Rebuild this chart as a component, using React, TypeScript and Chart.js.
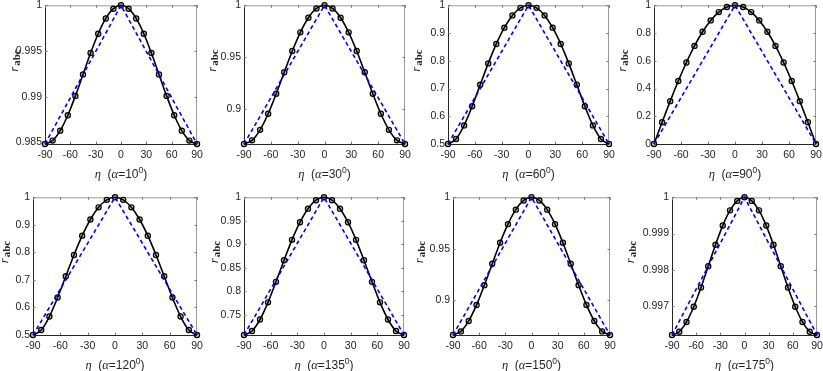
import React, { useEffect, useRef } from "react";
import { Chart, registerables } from "chart.js";

Chart.register(...registerables);

// ---------- data ----------
const ETA = [-90, -81, -72, -63, -54, -45, -36, -27, -18, -9, 0, 9, 18, 27, 36, 45, 54, 63, 72, 81, 90];
const TRI_ETA = [-90, 0, 90];
const X_TICKS = [-90, -60, -30, 0, 30, 60, 90];

const R_A10 = [0.98481, 0.98518, 0.98627, 0.98796, 0.99008, 0.99243, 0.99478, 0.99689, 0.99856, 0.99963, 1, 0.99963, 0.99856, 0.99689, 0.99478, 0.99243, 0.99008, 0.98796, 0.98627, 0.98518, 0.98481];
const R_A30 = [0.86603, 0.86955, 0.8797, 0.89528, 0.91453, 0.93541, 0.95584, 0.97389, 0.98799, 0.99694, 1, 0.99694, 0.98799, 0.97389, 0.95584, 0.93541, 0.91453, 0.89528, 0.8797, 0.86955, 0.86603];
const R_A60 = [0.5, 0.51803, 0.56712, 0.63607, 0.71353, 0.79057, 0.86074, 0.91947, 0.96353, 0.99078, 1, 0.99078, 0.96353, 0.91947, 0.86074, 0.79057, 0.71353, 0.63607, 0.56712, 0.51803, 0.5];
const R_A90 = [0, 0.15643, 0.30902, 0.45399, 0.58779, 0.70711, 0.80902, 0.89101, 0.95106, 0.98769, 1, 0.98769, 0.95106, 0.89101, 0.80902, 0.70711, 0.58779, 0.45399, 0.30902, 0.15643, 0];
const R_A120 = [0.5, 0.51803, 0.56712, 0.63607, 0.71353, 0.79057, 0.86074, 0.91947, 0.96353, 0.99078, 1, 0.99078, 0.96353, 0.91947, 0.86074, 0.79057, 0.71353, 0.63607, 0.56712, 0.51803, 0.5];
const R_A135 = [0.70711, 0.71571, 0.7401, 0.77657, 0.82021, 0.86603, 0.90954, 0.94708, 0.97584, 0.99387, 1, 0.99387, 0.97584, 0.94708, 0.90954, 0.86603, 0.82021, 0.77657, 0.7401, 0.71571, 0.70711];
const R_A150 = [0.86603, 0.86955, 0.8797, 0.89528, 0.91453, 0.93541, 0.95584, 0.97389, 0.98799, 0.99694, 1, 0.99694, 0.98799, 0.97389, 0.95584, 0.93541, 0.91453, 0.89528, 0.8797, 0.86955, 0.86603];
const R_A175 = [0.9962, 0.99629, 0.99656, 0.99698, 0.99751, 0.9981, 0.99869, 0.99922, 0.99964, 0.9999, 1, 0.9999, 0.99964, 0.99922, 0.99869, 0.9981, 0.99751, 0.99698, 0.99656, 0.99629, 0.9962];

const T_A10 = [0.98481, 1, 0.98481];
const T_A30 = [0.86603, 1, 0.86603];
const T_A60 = [0.5, 1, 0.5];
const T_A90 = [0, 1, 0];
const T_A120 = [0.5, 1, 0.5];
const T_A135 = [0.70711, 1, 0.70711];
const T_A150 = [0.86603, 1, 0.86603];
const T_A175 = [0.9962, 1, 0.9962];

const YT_A10 = [0.985, 0.99, 0.995, 1];
const YT_A30 = [0.9, 0.95, 1];
const YT_A60 = [0.5, 0.6, 0.7, 0.8, 0.9, 1];
const YT_A90 = [0, 0.2, 0.4, 0.6, 0.8, 1];
const YT_A120 = [0.5, 0.6, 0.7, 0.8, 0.9, 1];
const YT_A135 = [0.75, 0.8, 0.85, 0.9, 0.95, 1];
const YT_A150 = [0.9, 0.95, 1];
const YT_A175 = [0.997, 0.998, 0.999, 1];

const ALPHAS = ["10", "30", "60", "90", "120", "135", "150", "175"];
const CURVES = [R_A10, R_A30, R_A60, R_A90, R_A120, R_A135, R_A150, R_A175];
const TRIS = [T_A10, T_A30, T_A60, T_A90, T_A120, T_A135, T_A150, T_A175];
const YTICKS = [YT_A10, YT_A30, YT_A60, YT_A90, YT_A120, YT_A135, YT_A150, YT_A175];

// ---------- layout (plot-area rectangles in page pixels) ----------
const RECTS = [
  { l: 45, t: 4, r: 197, b: 144, lab: 30 },
  { l: 244, t: 4, r: 405, b: 144, lab: 31 },
  { l: 448, t: 4, r: 609, b: 144, lab: 31 },
  { l: 654, t: 4, r: 816, b: 144, lab: 31 },
  { l: 33, t: 196, r: 197, b: 335, lab: 28 },
  { l: 244, t: 196, r: 404, b: 335, lab: 29 },
  { l: 453, t: 196, r: 610, b: 335, lab: 33 },
  { l: 672, t: 196, r: 817, b: 335, lab: 41 },
];
const PAD_L = 52;
const PAD_R = 12;
const PAD_T = 8;
const PAD_B = 40;

const SANS = "'Liberation Sans', Arial, sans-serif";
const SERIF = "'Liberation Serif', 'Times New Roman', serif";
const AX = "#262626";

const fmt = (v: number) => String(parseFloat(v.toFixed(6)));

const deco = {
  id: "deco",
  beforeDatasetsDraw(chart: any, _a: any, opts: any) {
    const { ctx, chartArea: a, scales } = chart;
    ctx.save();
    ctx.lineWidth = 1;
    ctx.strokeStyle = "#9a9a9a";
    ctx.beginPath();
    ctx.moveTo(a.left, a.top + 0.5);
    ctx.lineTo(a.right - 0.5, a.top + 0.5);
    ctx.lineTo(a.right - 0.5, a.bottom);
    ctx.stroke();
    ctx.strokeStyle = AX;
    ctx.beginPath();
    ctx.moveTo(a.left + 0.5, a.top);
    ctx.lineTo(a.left + 0.5, a.bottom + 0.5);
    ctx.lineTo(a.right, a.bottom + 0.5);
    ctx.stroke();
    // inward ticks
    ctx.strokeStyle = "#777";
    ctx.beginPath();
    for (const t of scales.x.ticks) {
      const px = Math.round(scales.x.getPixelForValue(t.value)) + 0.5;
      ctx.moveTo(px, a.bottom);
      ctx.lineTo(px, a.bottom - 2.5);
      ctx.moveTo(px, a.top);
      ctx.lineTo(px, a.top + 2.5);
    }
    for (const t of scales.y.ticks) {
      const py = Math.round(scales.y.getPixelForValue(t.value)) + 0.5;
      ctx.moveTo(a.left, py);
      ctx.lineTo(a.left + 2.5, py);
      ctx.moveTo(a.right, py);
      ctx.lineTo(a.right - 2.5, py);
    }
    ctx.stroke();
    ctx.restore();
  },
  afterDraw(chart: any, _a: any, opts: any) {
    const { ctx, chartArea: a } = chart;
    ctx.save();
    ctx.fillStyle = AX;
    ctx.textBaseline = "alphabetic";
    ctx.textAlign = "left";
    // x label: η  (α=NN⁰)
    const parts = [
      { t: "\u03B7", f: `italic 12.5px ${SERIF}`, dy: 0 },
      { t: "  (", f: `12px ${SANS}`, dy: 0 },
      { t: "\u03B1", f: `italic 12.5px ${SERIF}`, dy: 0 },
      { t: "=" + opts.alpha, f: `12px ${SANS}`, dy: 0 },
      { t: "0", f: `8.5px ${SANS}`, dy: -5 },
      { t: ")", f: `12px ${SANS}`, dy: 0 },
    ];
    let total = 0;
    for (const p of parts) {
      ctx.font = p.f;
      total += ctx.measureText(p.t).width;
    }
    let x = (a.left + a.right) / 2 - total / 2;
    const y = a.bottom + 34;
    for (const p of parts) {
      ctx.font = p.f;
      ctx.fillText(p.t, x, y + p.dy);
      x += ctx.measureText(p.t).width;
    }
    // y label: r_abc rotated
    const cy = (a.top + a.bottom) / 2;
    ctx.translate(a.left - opts.lab + 2.5, cy - 3);
    ctx.rotate(-Math.PI / 2);
    ctx.font = `italic 12.5px ${SERIF}`;
    ctx.fillText("r", 0, 0);
    const rw = ctx.measureText("r").width;
    ctx.font = `bold 11px ${SERIF}`;
    ctx.fillText("abc", rw + 1, 2);
    ctx.restore();
  },
};

function Panel({ idx }: { idx: number }) {
  const ref = useRef<HTMLCanvasElement>(null);
  const R = RECTS[idx];
  const w = R.r - R.l + PAD_L + PAD_R;
  const h = R.b - R.t + PAD_T + PAD_B;

  useEffect(() => {
    const curve = CURVES[idx];
    const tri = TRIS[idx];
    const yt = YTICKS[idx];
    const ymin = Math.min(...curve);
    const chart = new Chart(ref.current as HTMLCanvasElement, {
      type: "line",
      data: {
        datasets: [
          {
            data: TRI_ETA.map((e, i) => ({ x: e, y: tri[i] })),
            borderColor: "#0000ff",
            borderWidth: 1.6,
            borderDash: [4, 3],
            pointRadius: 0,
            tension: 0,
            clip: false as any,
          },
          {
            data: ETA.map((e, i) => ({ x: e, y: curve[i] })),
            borderColor: "#000000",
            borderWidth: 1.6,
            pointRadius: 2.6,
            pointBorderWidth: 1.2,
            pointBorderColor: "#000000",
            pointBackgroundColor: "rgba(0,0,0,0.25)",
            cubicInterpolationMode: "monotone",
            clip: false as any,
          },
        ],
      },
      options: {
        animation: false,
        responsive: false,
        maintainAspectRatio: false,
        devicePixelRatio: 1,
        events: [],
        layout: { padding: { left: 0, right: PAD_R, top: PAD_T, bottom: 0 } },
        plugins: {
          legend: { display: false },
          tooltip: { enabled: false },
          deco: { alpha: ALPHAS[idx], lab: R.lab },
        } as any,
        scales: {
          x: {
            type: "linear",
            min: -90,
            max: 90,
            grid: { display: false, drawTicks: false },
            border: { display: false },
            afterBuildTicks: (s: any) => {
              s.ticks = X_TICKS.map((v) => ({ value: v }));
            },
            afterFit: (s: any) => {
              s.height = PAD_B;
            },
            ticks: {
              padding: 5,
              maxRotation: 0,
              autoSkip: false,
              color: AX,
              font: { family: SANS, size: 10.5 },
              callback: (v: any) => fmt(Number(v)),
            },
          },
          y: {
            type: "linear",
            min: ymin,
            max: 1,
            grid: { display: false, drawTicks: false },
            border: { display: false },
            afterBuildTicks: (s: any) => {
              s.ticks = yt.map((v) => ({ value: v }));
            },
            afterFit: (s: any) => {
              s.width = PAD_L;
            },
            ticks: {
              padding: 3,
              autoSkip: false,
              color: AX,
              font: { family: SANS, size: 10.5 },
              callback: (v: any) => fmt(Number(v)),
            },
          },
        },
      },
      plugins: [deco as any],
    });
    return () => chart.destroy();
  }, [idx]);

  return (
    <canvas
      ref={ref}
      width={w}
      height={h}
      style={{ position: "absolute", left: R.l - PAD_L, top: R.t - PAD_T, width: w, height: h }}
    />
  );
}

export default function App() {
  return (
    <div
      style={{
        position: "fixed",
        left: 0,
        top: 0,
        width: 823,
        height: 371,
        background: "#ffffff",
        overflow: "hidden",
      }}
    >
      {RECTS.map((_, i) => (
        <Panel key={i} idx={i} />
      ))}
    </div>
  );
}
